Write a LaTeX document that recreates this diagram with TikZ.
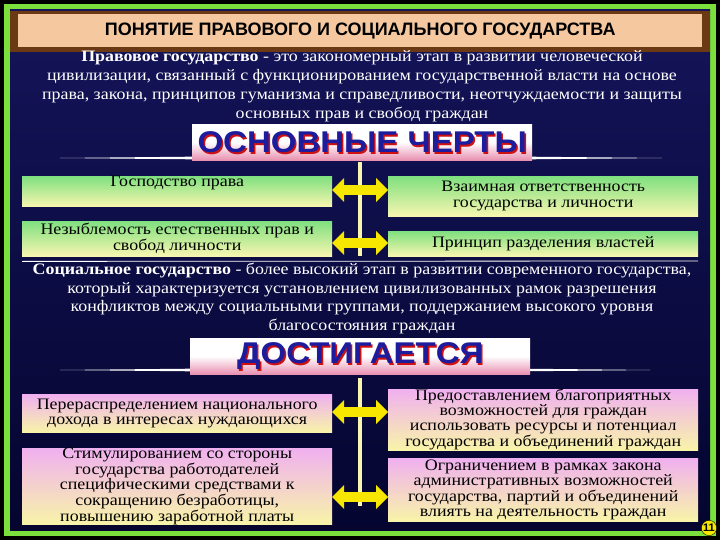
\documentclass[tikz,border=0pt]{standalone}
\usepackage{fontspec}
\setmainfont{Liberation Serif}
\newfontfamily\wserif[FakeStretch=1.12]{Liberation Serif}
\newfontfamily\hsans{Liberation Sans}
\newfontfamily\bsans[FakeStretch=1.1]{Liberation Sans}
\usetikzlibrary{shapes.arrows,shapes.geometric}
\definecolor{navy}{HTML}{14145A}
\definecolor{deepnavy}{HTML}{050530}
\definecolor{frameg}{HTML}{7CE03C}
\definecolor{brownbar}{HTML}{6B3A14}
\definecolor{peach}{HTML}{F5C8A0}
\definecolor{boxgreen}{HTML}{7FE07F}
\definecolor{boxyellow}{HTML}{F8F6B0}
\definecolor{boxpink}{HTML}{F0B0F0}
\definecolor{boxlyellow}{HTML}{F8F4A8}
\definecolor{arrowy}{HTML}{F6E600}
\definecolor{bannerpink}{HTML}{E890B0}
\definecolor{bannerblue}{HTML}{1C1C9C}
\definecolor{bannerred}{HTML}{D01010}
\tikzset{
 x=1pt,y=-1pt,
 para/.style={text=white,font=\wserif\fontsize{16}{18.5}\selectfont,align=center,anchor=north},
 feat/.style={draw=none,top color=boxgreen,bottom color=boxyellow,minimum width=310pt,inner sep=0pt,font=\wserif\fontsize{16}{16}\selectfont,align=center,anchor=north west},
 ach/.style={draw=none,top color=boxpink,bottom color=boxlyellow,minimum width=310pt,inner sep=0pt,font=\wserif\fontsize{16}{14.8}\selectfont,align=center,anchor=north west},
 darr/.style={double arrow,fill=arrowy,draw=none,minimum width=24pt,inner xsep=0pt,inner ysep=4pt,double arrow head extend=6pt,minimum height=56pt},
 banner/.style={top color=white,bottom color=bannerpink,middle color=white,minimum width=340pt,minimum height=36pt,anchor=north west},
 btext/.style={font=\bsans\bfseries\fontsize{30}{30}\selectfont},
 stem/.style={draw=boxyellow,line width=4pt},
}
\begin{document}
\begin{tikzpicture}
\useasboundingbox (0,0) rectangle (720,540);
\fill[black] (0,0) rectangle (720,540);
\fill[frameg] (4,4) rectangle (716,536);
\shade[top color=navy,bottom color=deepnavy] (10,10) rectangle (710,530);
% title
\fill[brownbar] (10,11) rectangle (710,52);
\node[fill=peach,minimum width=684pt,minimum height=33pt,anchor=north west,font=\hsans\bfseries\fontsize{18}{18}\selectfont] (title) at (18,14) {ПОНЯТИЕ ПРАВОВОГО И СОЦИАЛЬНОГО ГОСУДАРСТВА};
% paragraph 1
\node[para,font=\wserif\fontsize{16}{19}\selectfont] (p1) at (362,47) {\textbf{Правовое государство} - это закономерный этап в развитии человеческой\\цивилизации, связанный с функционированием государственной власти на основе\\права, закона, принципов гуманизма и справедливости, неотчуждаемости и защиты\\основных прав и свобод граждан};
% banner 1
\fill[white] (60,158) -- (360,155) -- (662,158) -- (360,161) -- cycle;
\node[banner] (b1) at (192,124) {};
\node[btext,text=bannerred] at ([shift={(1.5,1.5)}]b1.center) {ОСНОВНЫЕ ЧЕРТЫ};
\node[btext,text=bannerblue] (b1t) at (b1.center) {ОСНОВНЫЕ ЧЕРТЫ};
\coordinate (s1) at (360,162);
\coordinate (e1) at (360,256);
\draw[stem] (s1) -- (e1);
% features
\node[feat,minimum height=26pt,align=center,anchor=north west] (f1) at (22,176) {Господство права\\[-1pt]\strut};
\node[feat,minimum height=40pt] (f2) at (388,176) {Взаимная ответственность\\государства и личности};
\node[feat,minimum height=35pt] (f3) at (22,221) {Незыблемость естественных прав и\\свобод личности};
\node[feat,minimum height=25pt] (f4) at (388,231) {Принцип разделения властей};
\node[darr] (a1) at (360,190) {};
\node[darr] (a2) at (360,243) {};
\draw[white,line width=0.8pt] (f3.south west) ++(0,5) coordinate (l1) -- (698,261) coordinate (l2);
% paragraph 2
\node[para] (p2) at (362,260) {\textbf{Социальное государство} - более высокий этап в развитии современного государства,\\который характеризуется установлением цивилизованных рамок разрешения\\конфликтов между социальными группами, поддержанием высокого уровня\\благосостояния граждан};
% banner 2
\fill[white] (60,370) -- (360,367) -- (650,370) -- (360,373) -- cycle;
\node[banner] (b2) at (190,338) {};
\node[btext,text=bannerred] at ([shift={(1.5,1.5)}]b2.center) {ДОСТИГАЕТСЯ};
\node[btext,text=bannerblue] (b2t) at (b2.center) {ДОСТИГАЕТСЯ};
\coordinate (s2) at (360,378);
\coordinate (e2) at (360,506);
\draw[stem] (s2) -- (e2);
% achievements
\node[ach,minimum height=38pt] (g1) at (22,394) {Перераспределением национального\\дохода в интересах нуждающихся};
\node[ach,minimum height=61pt] (g2) at (388,389) {Предоставлением благоприятных\\возможностей для граждан\\использовать ресурсы и потенциал\\государства и объединений граждан};
\node[ach,minimum height=73pt] (g3) at (22,448) {Стимулированием со стороны\\государства работодателей\\специфическими средствами к\\сокращению безработицы,\\повышению заработной платы};
\node[ach,minimum height=63pt] (g4) at (388,458) {Ограничением в рамках закона\\административных возможностей\\государства, партий и объединений\\влиять на деятельность граждан};
\node[darr] (a3) at (360,412) {};
\node[darr] (a4) at (360,497) {};
% page number
\node[circle,fill=arrowy,draw=black,inner sep=0.5pt,font=\hsans\bfseries\fontsize{11}{11}\selectfont] (pg) at (709,528) {11};
\end{tikzpicture}
\end{document}
